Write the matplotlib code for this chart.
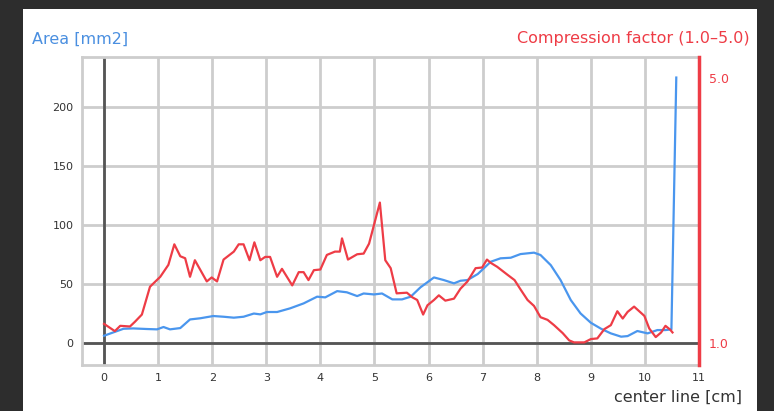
import matplotlib
matplotlib.use("Agg")
import matplotlib.pyplot as plt
from matplotlib.patches import Rectangle

plt.rcParams["font.family"] = ["DejaVu Sans"]

# Centre-line position [cm] and cross-sectional area [mm2]
area_x = [0.00, 0.36, 0.54, 0.79, 0.98, 1.10, 1.22, 1.41, 1.59, 1.78, 2.02, 2.21,
          2.40, 2.58, 2.77, 2.89, 3.01, 3.20, 3.44, 3.69, 3.94, 4.09, 4.31, 4.49,
          4.68, 4.80, 4.99, 5.14, 5.33, 5.51, 5.67, 5.85, 6.10, 6.28, 6.47, 6.59,
          6.72, 6.91, 7.15, 7.33, 7.52, 7.70, 7.95, 8.07, 8.26, 8.44, 8.63, 8.81,
          9.00, 9.19, 9.37, 9.56, 9.68, 9.86, 10.05, 10.23, 10.38, 10.49, 10.58]
area_mm2 = [6.2, 12.1, 12.4, 11.9, 11.6, 13.6, 11.6, 12.7, 20.0, 21.0, 22.9, 22.3,
            21.5, 22.3, 25.0, 24.3, 26.3, 26.3, 29.4, 33.6, 39.3, 38.7, 44.0, 43.0,
            39.8, 42.0, 41.2, 42.0, 37.0, 37.0, 39.3, 47.2, 55.6, 53.4, 50.6, 52.8,
            53.4, 58.5, 68.9, 71.8, 72.3, 75.4, 76.6, 74.6, 66.0, 53.4, 36.4, 25.1,
            17.2, 12.1, 8.2, 5.4, 5.9, 10.2, 8.2, 11.0, 11.0, 11.6, 225.0]

# Centre-line position [cm] and compression factor (1.0 - 5.0)
comp_x = [0.00, 0.20, 0.30, 0.48, 0.57, 0.70, 0.85, 1.04, 1.19, 1.30, 1.41, 1.50,
          1.59, 1.68, 1.90, 1.99, 2.09, 2.21, 2.40, 2.49, 2.58, 2.69, 2.78, 2.89,
          2.98, 3.07, 3.20, 3.29, 3.48, 3.60, 3.69, 3.78, 3.88, 4.00, 4.12, 4.27,
          4.36, 4.40, 4.51, 4.68, 4.80, 4.90, 5.10, 5.20, 5.30, 5.41, 5.60, 5.70,
          5.79, 5.90, 5.98, 6.10, 6.19, 6.31, 6.47, 6.59, 6.72, 6.87, 6.99, 7.08,
          7.15, 7.27, 7.46, 7.59, 7.70, 7.83, 7.95, 8.07, 8.20, 8.32, 8.48, 8.60,
          8.69, 8.88, 9.00, 9.12, 9.25, 9.37, 9.49, 9.59, 9.68, 9.80, 9.99, 10.08,
          10.20, 10.30, 10.38, 10.47, 10.51]
comp_factor = [1.29, 1.18, 1.26, 1.25, 1.32, 1.43, 1.85, 2.00, 2.18, 2.49, 2.31, 2.28,
               2.00, 2.25, 1.93, 1.99, 1.93, 2.26, 2.38, 2.49, 2.49, 2.25, 2.52, 2.25,
               2.30, 2.30, 2.00, 2.12, 1.87, 2.07, 2.07, 1.95, 2.10, 2.11, 2.33, 2.38,
               2.38, 2.58, 2.26, 2.34, 2.35, 2.50, 3.12, 2.25, 2.13, 1.75, 1.76, 1.69,
               1.65, 1.43, 1.57, 1.65, 1.72, 1.64, 1.67, 1.82, 1.93, 2.13, 2.14, 2.26,
               2.21, 2.15, 2.03, 1.95, 1.81, 1.65, 1.56, 1.39, 1.35, 1.27, 1.15, 1.04,
               1.01, 1.01, 1.06, 1.07, 1.21, 1.27, 1.48, 1.37, 1.47, 1.55, 1.41, 1.22,
               1.09, 1.16, 1.26, 1.20, 1.16]

x_ticks = list(range(0, 12))
area_ticks = [0, 50, 100, 150, 200]
comp_ticks = [1.0, 5.0]
comp_tick_labels = ["1.0", "5.0"]

BLUE = "#4a96ee"
RED = "#ee3c46"
GRID = "#cdcdcd"
DARK = "#555555"
TEXT = "#333333"

fig = plt.figure(figsize=(7.74, 4.11), dpi=100)
fig.patch.set_facecolor("#2d2d2d")
W, H = 774, 411

# white card behind the chart
card = Rectangle((23 / W, 0), (757 - 23) / W, (411 - 9) / H,
                 transform=fig.transFigure, facecolor="white",
                 edgecolor="none", zorder=-10)
fig.add_artist(card)

ax = fig.add_axes([82 / W, 46 / H, (699 - 82) / W, (365 - 57) / H], zorder=1)
ax.set_facecolor("white")

area_lo, area_hi = -18.6, 242.4
ax.set_xlim(-0.407, 11.0)
ax.set_ylim(area_lo, area_hi)

# compression factor 1.0 sits on area 0, 5.0 on area ~224.6
area_per_unit = 224.6 / 4.0
ax2 = ax.twinx()
ax2.set_ylim(1.0 + area_lo / area_per_unit, 1.0 + area_hi / area_per_unit)

ax.set_xticks(x_ticks)
ax.set_xticklabels([str(t) for t in x_ticks])
ax.set_yticks(area_ticks)
ax.set_yticklabels([str(t) for t in area_ticks])
ax.tick_params(axis="both", length=0, labelsize=8, colors=TEXT)
ax.tick_params(axis="y", pad=6)
ax.tick_params(axis="x", pad=6)
ax.grid(True, color=GRID, linewidth=2.0, zorder=0)
ax.set_axisbelow(True)
for side in ["left", "top", "bottom", "right"]:
    ax.spines[side].set_color(GRID)
    ax.spines[side].set_linewidth(2.0)

ax.axvline(0, color=DARK, linewidth=2.0, zorder=1.5)
ax.axhline(0, color=DARK, linewidth=2.0, zorder=1.5)

ax.plot(area_x, area_mm2, color=BLUE, linewidth=1.6, zorder=3)
ax2.plot(comp_x, comp_factor, color=RED, linewidth=1.6, zorder=3)

ax2.set_yticks(comp_ticks)
ax2.set_yticklabels(comp_tick_labels)
ax2.tick_params(axis="y", length=0, labelsize=9, colors=RED, pad=7)
for side in ["left", "top", "bottom"]:
    ax2.spines[side].set_visible(False)
ax2.spines["right"].set_color(RED)
ax2.spines["right"].set_linewidth(2.5)

fig.text(32 / W, 1 - 39 / H, "Area [mm2]", color="#4a8fe0", fontsize=11.5,
         ha="left", va="center")
fig.text(750 / W, 1 - 38 / H, "Compression factor (1.0\u20135.0)", color=RED,
         fontsize=11.5, ha="right", va="center")
fig.text(742 / W, 1 - 397 / H, "center line [cm]", color=TEXT, fontsize=11.5,
         ha="right", va="center")

fig.savefig("out.png", dpi=100, facecolor=fig.get_facecolor())
